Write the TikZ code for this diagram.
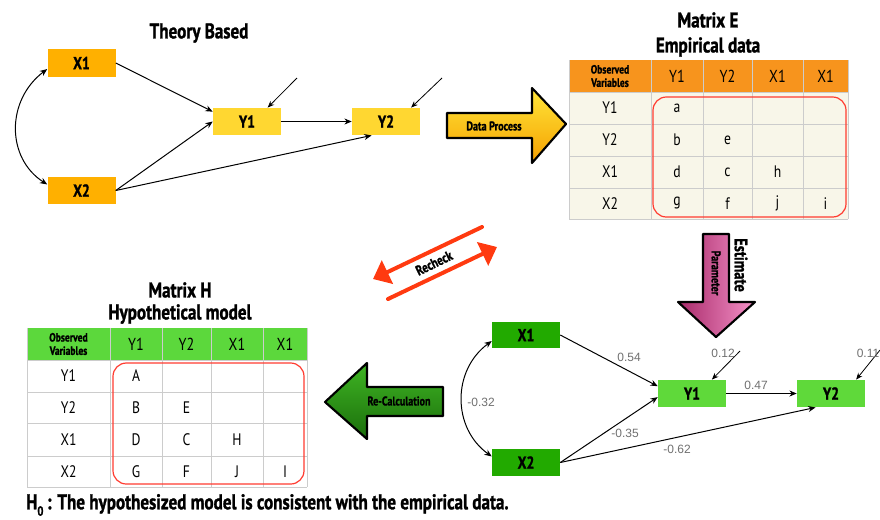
\documentclass[tikz,border=0pt]{standalone}
\usepackage{fontspec}
\setmainfont{PT Sans}
\newfontfamily\cond[FakeStretch=0.82]{PT Sans}
\newfontfamily\heavy[FakeStretch=0.80, FakeBold=1.2]{PT Sans Bold}
\newfontfamily\arialf{Liberation Sans}
\usetikzlibrary{arrows.meta}
\definecolor{xorange}{HTML}{FFB000}
\definecolor{yyellow}{HTML}{FFD731}
\definecolor{thorange}{HTML}{F7941D}
\definecolor{cream}{HTML}{F8F6E9}
\definecolor{gridgray}{HTML}{CCCCCC}
\definecolor{thgreen}{HTML}{5CD83C}
\definecolor{xgreen}{HTML}{22AA00}
\definecolor{ygreen}{HTML}{5FD93A}
\definecolor{redl}{HTML}{FF3B30}
\definecolor{recheckred}{HTML}{FF3A10}
\definecolor{numgray}{HTML}{707070}
\definecolor{magdark}{HTML}{A82A6A}
\definecolor{maglight}{HTML}{F592C8}
\definecolor{grlight}{HTML}{3FB523}
\definecolor{grdark}{HTML}{1B6E0C}
\definecolor{yltop}{HTML}{FFE63A}
\definecolor{ylbot}{HTML}{F5A000}
\tikzset{
  box/.style={minimum width=51pt, minimum height=20.5pt, inner sep=0pt, font=\heavy\fontsize{13}{13}\selectfont},
  pathar/.style={-{Stealth[length=5.5pt,width=4.5pt]}, line width=0.75pt},
  errar/.style={-{Stealth[length=5pt,width=4pt]}, line width=0.6pt},
  dblar/.style={{Stealth[length=5.5pt,width=4.5pt]}-{Stealth[length=5.5pt,width=4.5pt]}, line width=0.75pt},
  title/.style={font=\heavy\fontsize{16}{16}\selectfont},
  hdr/.style={font=\cond\fontsize{13}{13}\selectfont, inner sep=0pt},
  cell/.style={font=\cond\fontsize{12.5}{12.5}\selectfont, inner sep=0pt},
  obsv/.style={font=\heavy\fontsize{9}{10}\selectfont, align=center, inner sep=0pt},
  num/.style={font=\arialf\fontsize{9}{9}\selectfont, text=numgray, inner sep=0pt},
  blockar/.style={draw=black, line width=1.6pt, line join=round},
  redbox/.style={draw=redl, line width=0.9pt, rounded corners=10pt},
  recheckar/.style={draw=recheckred, line width=3pt, line cap=round, -{Triangle[length=12pt,width=19pt]}},
  artext/.style={font=\heavy\fontsize{9.5}{9.5}\selectfont, inner sep=0pt}
}
\begin{document}
\begin{tikzpicture}[x=0.75pt,y=-0.75pt]
\useasboundingbox (0,0) rectangle (880,519);
\fill[white] (0,0) rectangle (880,519);

% ---------- Theory based model ----------
\node[title] (ttitle) at (199,33) {Theory Based};
\node[box, fill=xorange, minimum height=21pt] (tx1) at (81.5,63) {X1};
\node[box, fill=xorange, minimum height=20.5pt] (tx2) at (81.5,190.5) {X2};
\node[box, fill=yyellow] (ty1) at (247,121.5) {Y1};
\node[box, fill=yyellow] (ty2) at (386,121.5) {Y2};
\coordinate (te1) at (297,78);
\coordinate (te2) at (442,78);
\draw[pathar] (tx1.east) -- (ty1.164);
\draw[pathar] (tx2.east) -- (ty1.west);
\draw[pathar] (tx2.east) -- (ty2.224);
\draw[pathar] (ty1.east) -- (ty2.west);
\draw[errar] (te1) -- (ty1.34);
\draw[errar] (te2) -- (ty2.29);
\draw[dblar] (tx1.190) .. controls (6,100) and (6,158) .. (tx2.170);

% ---------- Data Process arrow ----------
\draw[blockar, top color=yltop, bottom color=ylbot]
  (447,113) -- (532,113) -- (532,88) -- (566,124) -- (532,163) -- (532,138) -- (447,138) -- cycle;
\node[artext] (dp) at (494,126) {Data Process};

% ---------- Matrix E ----------
\node[title] (met1) at (708,20) {Matrix E};
\node[title] (met2) at (708,47) {Empirical data};
\fill[thorange] (569,60) rectangle (848,92);
\fill[cream] (569,92) rectangle (848,219);
\foreach \xx in {569,651,703,752,803,848} \draw[gridgray, line width=0.6pt] (\xx,60) -- (\xx,219);
\foreach \yy in {92,124,156,188,219} \draw[gridgray, line width=0.6pt] (569,\yy) -- (848,\yy);
\node[obsv] (eobs) at (610,76) {Observed\\Variables};
\foreach \c/\t [count=\i] in {677/Y1,727.5/Y2,777.5/X1,825.5/X1}
  \node[hdr] (eh\i) at (\c,76) {\t};
\foreach \r/\t [count=\i] in {108/Y1,140/Y2,172/X1,203.5/X2}
  \node[cell] (er\i) at (610,\r) {\t};
\node[cell] (ea) at (677,108) {a};
\node[cell] (eb) at (677,140) {b};
\node[cell] (ee) at (727.5,140) {e};
\node[cell] (ed) at (677,172) {d};
\node[cell] (ec) at (727.5,172) {c};
\node[cell] (eh) at (777.5,172) {h};
\node[cell] (eg) at (677,203.5) {g};
\node[cell] (ef) at (727.5,203.5) {f};
\node[cell] (ej) at (777.5,203.5) {j};
\node[cell] (ei) at (825.5,203.5) {i};
\draw[redbox] (653,97) rectangle (846,217);

% ---------- Estimate Parameter arrow ----------
\draw[blockar, left color=magdark, right color=maglight]
  (703,234) -- (729,234) -- (729,302) -- (755,302) -- (716,337) -- (678,302) -- (703,302) -- cycle;
\node[artext, rotate=-90, font=\heavy\fontsize{9.5}{9.5}\selectfont] (par) at (716,273) {Parameter};
\node[artext, rotate=-90, font=\heavy\fontsize{13.5}{13.5}\selectfont] (est) at (741,265) {Estimate};

% ---------- Recheck ----------
\coordinate (rc1s) at (482,227);
\coordinate (rc1e) at (373,279);
\coordinate (rc2s) at (388,299);
\coordinate (rc2e) at (497,247);
\draw[recheckar] (rc1s) -- (rc1e);
\draw[recheckar] (rc2s) -- (rc2e);
\node[artext, rotate=26, font=\heavy\fontsize{10.5}{10.5}\selectfont] (rck) at (434,263) {Recheck};

% ---------- Matrix H ----------
\node[title] (mht1) at (180,290) {Matrix H};
\node[title] (mht2) at (180,314) {Hypothetical model};
\fill[thgreen] (27,328) rectangle (307,360);
\foreach \xx in {27,110,162,211,263,307} \draw[gridgray, line width=0.6pt] (\xx,328) -- (\xx,487);
\foreach \yy in {360,392,423,456,487} \draw[gridgray, line width=0.6pt] (27,\yy) -- (307,\yy);
\node[obsv] (hobs) at (68.5,344) {Observed\\Variables};
\foreach \c/\t [count=\i] in {136/Y1,186.5/Y2,237/X1,285/X1}
  \node[hdr] (hh\i) at (\c,344) {\t};
\foreach \r/\t [count=\i] in {376/Y1,407.5/Y2,439.5/X1,471.5/X2}
  \node[cell] (hr\i) at (68.5,\r) {\t};
\node[cell] (hA) at (136,376) {A};
\node[cell] (hB) at (136,407.5) {B};
\node[cell] (hE) at (186.5,407.5) {E};
\node[cell] (hD) at (136,439.5) {D};
\node[cell] (hC) at (186.5,439.5) {C};
\node[cell] (hH) at (237,439.5) {H};
\node[cell] (hG) at (136,471.5) {G};
\node[cell] (hF) at (186.5,471.5) {F};
\node[cell] (hJ) at (237,471.5) {J};
\node[cell] (hI) at (285,471.5) {I};
\draw[redbox] (113,363) rectangle (304,484);

% ---------- Re-Calculation arrow ----------
\draw[blockar, top color=grlight, bottom color=grdark]
  (443,387) -- (367,387) -- (367,363) -- (325,402) -- (367,439) -- (367,416) -- (443,416) -- cycle;
\node[artext] (rcalc) at (399,401) {Re-Calculation};

% ---------- Estimated model ----------
\node[box, fill=xgreen, minimum height=19.5pt] (bx1) at (526,335) {X1};
\node[box, fill=xgreen, minimum height=20pt] (bx2) at (526,462.5) {X2};
\node[box, fill=ygreen] (by1) at (692,393.5) {Y1};
\node[box, fill=ygreen] (by2) at (831,393.5) {Y2};
\coordinate (be1) at (740,351);
\coordinate (be2) at (880,350);
\draw[pathar] (bx1.east) -- (by1.168);
\draw[pathar] (bx2.east) -- (by1.186);
\draw[pathar] (bx2.east) -- (by2.222);
\draw[pathar] (by1.east) -- (by2.west);
\draw[errar] (be1) -- (by1.35);
\draw[errar] (be2) -- (by2.29);
\draw[dblar] (bx1.190) .. controls (452,370) and (452,428) .. (bx2.170);
\node[num] (n054) at (629,357) {0.54};
\node[num] (n035) at (625,433) {-0.35};
\node[num] (n032) at (481,402) {-0.32};
\node[num] (n012) at (723,353) {0.12};
\node[num] (n047) at (756,385) {0.47};
\node[num] (n011) at (868,353) {0.11};
\node[num] (n062) at (677,449) {-0.62};

% ---------- Hypothesis ----------
\node[anchor=west, inner sep=0pt, font=\heavy\fontsize{16}{16}\selectfont] (h0) at (26,505)
  {H\raisebox{-0.3em}{\fontsize{10}{10}\selectfont 0}\,: The hypothesized model is consistent with the empirical data.};
\end{tikzpicture}
\end{document}
